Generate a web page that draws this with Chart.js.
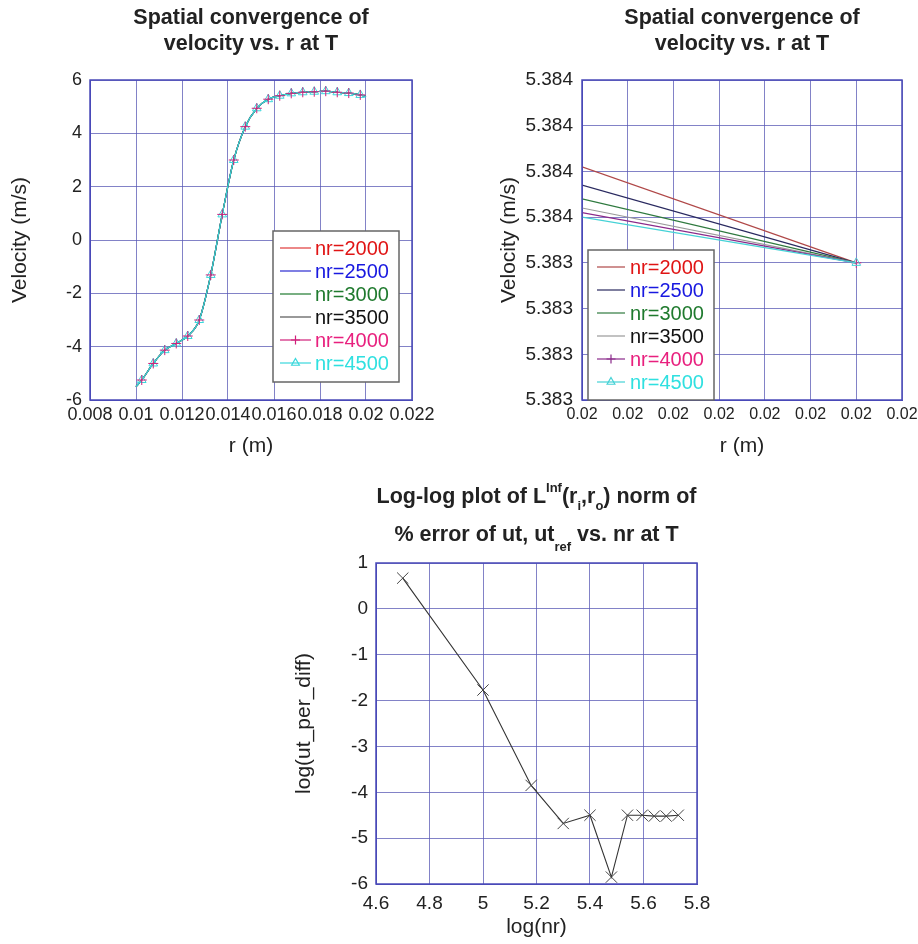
<!DOCTYPE html>
<html>
<head>
<meta charset="utf-8">
<script src="https://cdn.jsdelivr.net/npm/chart.js@4.4.1/dist/chart.umd.min.js"></script>
<style>
    body { margin: 0; background: #fff; width: 918px; height: 944px; position: relative; overflow: hidden; }
    canvas { position: absolute; }
</style>
</head>
<body>
<canvas id="velChart" width="460" height="460" style="left:0;top:0"></canvas>
<canvas id="zoomChart" width="458" height="460" style="left:460px;top:0"></canvas>
<canvas id="errChart" width="480" height="484" style="left:250px;top:460px"></canvas>
<script>
// ---- data ----
const nrLabels = ['nr=2000', 'nr=2500', 'nr=3000', 'nr=3500', 'nr=4000', 'nr=4500'];

// velocity profile vs r (all runs overlap at this scale)
const rLeft = [0.0100, 0.01025, 0.01075, 0.01125, 0.01175, 0.01225, 0.01275, 0.01325, 0.01375, 0.01425, 0.01475,
    0.01525, 0.01575, 0.01625, 0.01675, 0.01725, 0.01775, 0.01825, 0.01875, 0.01925, 0.01975, 0.0200];
const velLeft = [-5.5, -5.25, -4.63, -4.13, -3.88, -3.6, -3.0, -1.31, 0.96, 3.0, 4.25,
    4.94, 5.28, 5.41, 5.5, 5.54, 5.56, 5.58, 5.54, 5.51, 5.44, 5.38];

// zoom near r = 0.02 : value at left edge for each run, common end value
const rZoom = [0.01994, 0.02000];
const velZoomStart = [5.38366, 5.38362, 5.38359, 5.38357, 5.38356, 5.38355];
const velZoomEnd = 5.38345;
const zoomXTicks = [0.01994, 0.01995, 0.01996, 0.01997, 0.01998, 0.01999, 0.02000, 0.02001];
const zoomYTicks = [5.38315, 5.38325, 5.38335, 5.38345, 5.38355, 5.38365, 5.38375, 5.38385];
const zoomYTickLabels = ['5.383', '5.383', '5.383', '5.383', '5.384', '5.384', '5.384', '5.384'];

// log-log error
const logNr = [4.70, 5.00, 5.18, 5.30, 5.40, 5.48, 5.54, 5.595, 5.64, 5.685, 5.73];
const logErr = [0.67, -1.77, -3.85, -4.68, -4.5, -5.85, -4.5, -4.5, -4.52, -4.52, -4.5];

// ---- look ----
const FONT = "'Liberation Sans', Arial, Helvetica, sans-serif";
const gridColor = 'rgba(88, 88, 180, 0.75)';
const frameColor = '#4a4ab8';
const lineColors = ['#e03a3a', '#2a2ad0', '#1f7a30', '#555555', '#d0207a', '#3ad8dc'];
const zoomLineColors = ['#b04848', '#2a2a60', '#2f7a3f', '#9a9a9a', '#8a2a8a', '#45d2d6'];
const textColors = ['#e01414', '#1818e0', '#1f7a2e', '#111111', '#e8207e', '#2fe0e0'];

Chart.defaults.font.family = FONT;
Chart.defaults.color = '#222';

function fixWidth(w) {
    return function (scale) { scale.width = w; scale.paddingTop = 0; scale.paddingBottom = 0; };
}
function fixHeight(h) {
    return function (scale) { scale.height = h; scale.paddingLeft = 0; scale.paddingRight = 0; };
}

// title lines with optional sub/superscripts
const headTitle = {
    id: 'headTitle',
    afterDraw(chart, args, opts) {
        const ctx = chart.ctx;
        const cx = (chart.chartArea.left + chart.chartArea.right) / 2;
        ctx.save();
        ctx.fillStyle = '#222';
        ctx.textBaseline = 'alphabetic';
        ctx.textAlign = 'left';
        opts.lines.forEach((parts, i) => {
            let w = 0;
            parts.forEach(p => {
                ctx.font = 'bold ' + (p.size || 21.5) + 'px ' + FONT;
                w += ctx.measureText(p.text).width;
            });
            let x = cx - w / 2;
            parts.forEach(p => {
                ctx.font = 'bold ' + (p.size || 21.5) + 'px ' + FONT;
                ctx.fillText(p.text, x, opts.y[i] + (p.dy || 0));
                x += ctx.measureText(p.text).width;
            });
        });
        ctx.restore();
    }
};

// axes box
const frame = {
    id: 'frame',
    afterDatasetsDraw(chart) {
        const {ctx, chartArea: a} = chart;
        ctx.save();
        ctx.strokeStyle = frameColor;
        ctx.lineWidth = 1.5;
        ctx.strokeRect(a.left, a.top, a.right - a.left, a.bottom - a.top);
        ctx.restore();
    }
};

// matlab style legend box
const boxLegend = {
    id: 'boxLegend',
    afterDraw(chart, args, o) {
        if (!o.rows) return;
        const ctx = chart.ctx;
        ctx.save();
        ctx.fillStyle = '#fff';
        ctx.fillRect(o.x, o.y, o.w, o.h);
        ctx.strokeStyle = '#666';
        ctx.lineWidth = 1.5;
        ctx.strokeRect(o.x, o.y, o.w, o.h);
        ctx.font = '20px ' + FONT;
        ctx.textBaseline = 'middle';
        o.rows.forEach((y, i) => {
            ctx.strokeStyle = o.lines[i];
            ctx.lineWidth = 1.2;
            ctx.beginPath();
            ctx.moveTo(o.lx0, y);
            ctx.lineTo(o.lx1, y);
            ctx.stroke();
            if (o.markers[i]) {
                ctx.fillStyle = 'rgba(0,0,0,0)';
                Chart.helpers.drawPoint(ctx, {pointStyle: o.markers[i], radius: 4.5, rotation: 0, borderWidth: 1},
                    (o.lx0 + o.lx1) / 2, y);
            }
            ctx.fillStyle = textColors[i];
            ctx.fillText(nrLabels[i], o.tx, y + 1);
        });
        ctx.restore();
    }
};

const plotPlugins = [headTitle, frame, boxLegend];

function gridOpts() {
    return {color: gridColor, lineWidth: 1, drawTicks: false};
}

// ---------- chart 1 : velocity vs r ----------
const markerRadius = rLeft.map((r, i) => (i === 0 || i === rLeft.length - 1) ? 0 : 5);

new Chart(document.getElementById('velChart'), {
    type: 'line',
    data: {
        datasets: nrLabels.map((label, i) => ({
            label: label,
            data: rLeft.map((r, k) => ({x: r, y: velLeft[k]})),
            borderColor: lineColors[i],
            backgroundColor: 'rgba(0,0,0,0)',
            borderWidth: 1.2,
            cubicInterpolationMode: 'monotone',
            showLine: i !== 4,
            pointStyle: i === 4 ? 'cross' : 'triangle',
            pointRadius: i >= 4 ? markerRadius : 0,
            pointBorderWidth: 1,
            pointBorderColor: lineColors[i],
            order: i === 4 ? 0 : (i === 5 ? 1 : 6 - i)
        }))
    },
    options: {
        responsive: false,
        animation: false,
        events: [],
        layout: {padding: {top: 80, right: 48, bottom: 0, left: 0}},
        scales: {
            x: {
                type: 'linear', min: 0.008, max: 0.022,
                ticks: {stepSize: 0.002, autoSkip: false, maxRotation: 0, minRotation: 0, padding: 4,
                    font: {size: 18}, callback: v => String(+v.toFixed(4))},
                grid: gridOpts(),
                border: {color: frameColor},
                title: {display: true, text: 'r (m)', font: {size: 21}, padding: {top: 0, bottom: 1}},
                afterFit: fixHeight(60)
            },
            y: {
                min: -6, max: 6,
                ticks: {stepSize: 2, padding: 8, font: {size: 18}},
                grid: gridOpts(),
                border: {color: frameColor},
                title: {display: true, text: 'Velocity (m/s)', font: {size: 21}, padding: {top: 8, bottom: 0}},
                afterFit: fixWidth(90)
            }
        },
        plugins: {
            legend: {display: false},
            tooltip: {enabled: false},
            headTitle: {
                y: [24, 50],
                lines: [[{text: 'Spatial convergence of'}], [{text: 'velocity vs. r at T'}]]
            },
            boxLegend: {
                x: 273, y: 231, w: 126, h: 151,
                rows: [248, 271, 294, 317, 340, 363],
                lx0: 280, lx1: 311, tx: 315,
                lines: lineColors,
                markers: [null, null, null, null, 'cross', 'triangle']
            }
        }
    },
    plugins: plotPlugins
});

// ---------- chart 2 : zoom near r = 0.02 ----------
new Chart(document.getElementById('zoomChart'), {
    type: 'line',
    data: {
        datasets: nrLabels.map((label, i) => ({
            label: label,
            data: [{x: rZoom[0], y: velZoomStart[i]}, {x: rZoom[1], y: velZoomEnd}],
            borderColor: zoomLineColors[i],
            backgroundColor: 'rgba(0,0,0,0)',
            borderWidth: 1.2,
            pointStyle: i === 4 ? 'cross' : 'triangle',
            pointRadius: i >= 4 ? [0, 5] : 0,
            pointBorderWidth: 1,
            pointBorderColor: i === 4 ? '#d0207a' : zoomLineColors[i],
            order: 6 - i
        }))
    },
    options: {
        responsive: false,
        animation: false,
        events: [],
        layout: {padding: {top: 80, right: 16, bottom: 0, left: 0}},
        scales: {
            x: {
                type: 'linear', min: zoomXTicks[0], max: zoomXTicks[zoomXTicks.length - 1],
                afterBuildTicks: scale => { scale.ticks = zoomXTicks.map(v => ({value: v})); },
                ticks: {autoSkip: false, maxRotation: 0, minRotation: 0, padding: 5,
                    font: {size: 16}, callback: v => v.toFixed(2)},
                grid: gridOpts(),
                border: {color: frameColor},
                title: {display: true, text: 'r (m)', font: {size: 21}, padding: {top: 0, bottom: 1}},
                afterFit: fixHeight(60)
            },
            y: {
                min: zoomYTicks[0], max: zoomYTicks[zoomYTicks.length - 1],
                afterBuildTicks: scale => { scale.ticks = zoomYTicks.map(v => ({value: v})); },
                ticks: {autoSkip: false, padding: 9, font: {size: 19},
                    callback: (v, idx) => zoomYTickLabels[idx]},
                grid: gridOpts(),
                border: {color: frameColor},
                title: {display: true, text: 'Velocity (m/s)', font: {size: 21}, padding: {top: 37, bottom: 0}},
                afterFit: fixWidth(122)
            }
        },
        plugins: {
            legend: {display: false},
            tooltip: {enabled: false},
            headTitle: {
                y: [24, 50],
                lines: [[{text: 'Spatial convergence of'}], [{text: 'velocity vs. r at T'}]]
            },
            boxLegend: {
                x: 128, y: 250, w: 126, h: 150,
                rows: [267, 290, 313, 336, 359, 382],
                lx0: 137, lx1: 165, tx: 170,
                lines: zoomLineColors,
                markers: [null, null, null, null, 'cross', 'triangle']
            }
        }
    },
    plugins: plotPlugins
});

// ---------- chart 3 : log-log error ----------
new Chart(document.getElementById('errChart'), {
    type: 'line',
    data: {
        datasets: [{
            label: 'ut_per_diff',
            data: logNr.map((x, i) => ({x: x, y: logErr[i]})),
            borderColor: '#333',
            backgroundColor: 'rgba(0,0,0,0)',
            borderWidth: 1.1,
            pointStyle: 'crossRot',
            pointRadius: 8,
            pointBorderWidth: 1,
            pointBorderColor: '#444'
        }]
    },
    options: {
        responsive: false,
        animation: false,
        events: [],
        layout: {padding: {top: 103, right: 33, bottom: 0, left: 0}},
        scales: {
            x: {
                type: 'linear', min: 4.6, max: 5.8,
                ticks: {stepSize: 0.2, autoSkip: false, maxRotation: 0, minRotation: 0, padding: 8,
                    font: {size: 19}, callback: v => String(+v.toFixed(2))},
                grid: gridOpts(),
                border: {color: frameColor},
                title: {display: true, text: 'log(nr)', font: {size: 21}, padding: {top: 0, bottom: 4}},
                afterFit: fixHeight(60)
            },
            y: {
                min: -6, max: 1,
                ticks: {stepSize: 1, padding: 8, font: {size: 19}},
                grid: gridOpts(),
                border: {color: frameColor},
                title: {display: true, text: 'log(ut_per_diff)', font: {size: 21}, padding: {top: 42, bottom: 0}},
                afterFit: fixWidth(126)
            }
        },
        plugins: {
            legend: {display: false},
            tooltip: {enabled: false},
            headTitle: {
                y: [43, 81],
                lines: [
                    [{text: 'Log-log plot of L'}, {text: 'Inf', size: 13, dy: -11}, {text: '(r'},
                        {text: 'i', size: 13, dy: 7}, {text: ',r'}, {text: 'o', size: 13, dy: 7},
                        {text: ') norm of'}],
                    [{text: '% error of ut, ut'}, {text: 'ref', size: 13, dy: 10}, {text: ' vs. nr at T'}]
                ]
            }
        }
    },
    plugins: plotPlugins
});
</script>
</body>
</html>
